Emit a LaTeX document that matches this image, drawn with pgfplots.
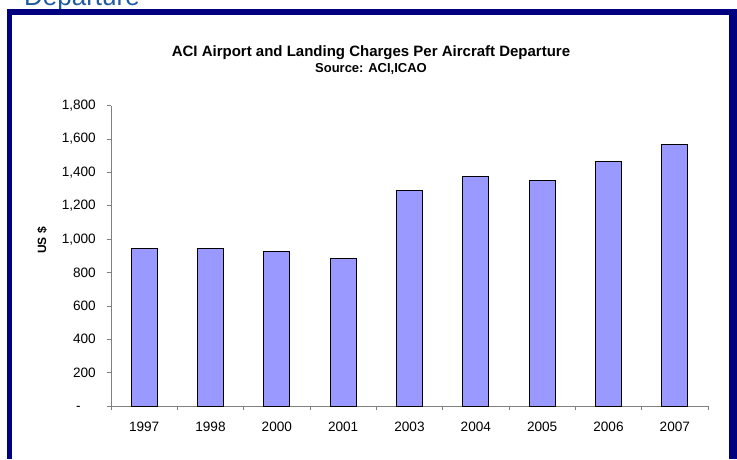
\documentclass[border=0pt]{standalone}
\usepackage{fontspec}
\setmainfont{Liberation Sans}
\usepackage{pgfplots}
\pgfplotsset{compat=1.18}
\definecolor{barfill}{RGB}{153,153,255}
\definecolor{framenavy}{RGB}{0,0,128}
\definecolor{axisgray}{RGB}{128,128,128}
\definecolor{headblue}{RGB}{31,90,160}
\begin{document}
\begin{tikzpicture}
\begin{axis}[
  scale only axis, width=597pt, height=300.3pt,
  xmin=-0.5, xmax=8.5, ymin=0, ymax=1800,
  axis x line*=bottom, axis y line*=left,
  axis line style={axisgray, line width=0.8pt},
  tick style={axisgray, line width=0.8pt},
  tick align=outside,
  major tick length=4pt,
  xtick={-0.5,0.5,...,8.5},
  xticklabels={,,,,,,,,,,},
  extra x ticks={0,1,2,3,4,5,6,7,8},
  extra x tick labels={1997,1998,2000,2001,2003,2004,2005,2006,2007},
  extra x tick style={major tick length=0pt, xticklabel style={anchor=north, inner sep=0pt, yshift=-16pt}},
  ytick={0,200,...,1800},
  yticklabels={{-\phantom{00}},200,400,600,800,{1,000},{1,200},{1,400},{1,600},{1,800}},
  yticklabel style={anchor=east, inner sep=0pt, xshift=-11pt},
  ticklabel style={font=\fontsize{13.6}{14}\selectfont},
  clip=false,
]
\addplot[ybar, bar width=26pt, fill=barfill, draw=black, line width=0.9pt] coordinates {
 (0,945) (1,945) (2,925) (3,883) (4,1291) (5,1373) (6,1351) (7,1467) (8,1569)
};
\end{axis}
\begin{scope}[x=1pt,y=1pt,shift={(-111pt,-53pt)}]
\begin{scope}
\clip (0,0) rectangle (737,459);
\node[anchor=base west, inner sep=0pt, text=headblue, font=\fontsize{26}{26}\selectfont] at (24,453) {Departure};
\fill[framenavy] (7.3,0) rectangle (12,449.7);
\fill[framenavy] (7.3,444) rectangle (737,449.7);
\fill[framenavy] (729.3,0) rectangle (737,449.7);
\end{scope}
\node[font=\fontsize{15}{15}\selectfont\bfseries] at (371,406) {ACI Airport and Landing Charges Per Aircraft Departure};
\node[font=\fontsize{13}{13}\selectfont\bfseries] at (371,390.5) {Source: ACI,ICAO};
\node[rotate=90, font=\fontsize{12}{12}\selectfont\bfseries] at (42,218.5) {US \$};
\useasboundingbox (0,0) rectangle (737,459);
\end{scope}
\end{tikzpicture}
\end{document}
